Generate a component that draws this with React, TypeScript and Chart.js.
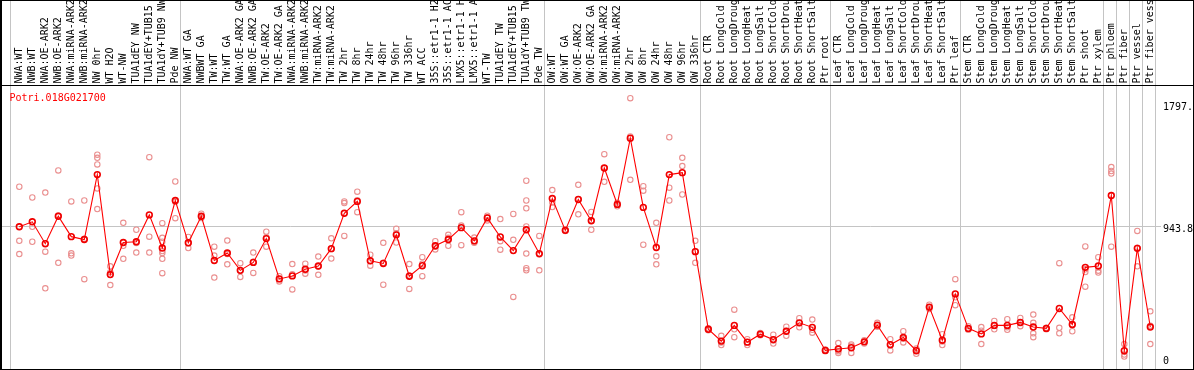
import React, { useEffect, useRef } from "react";
import { Chart, registerables } from "chart.js";

Chart.register(...registerables);

const geneId = "Potri.018G021700";

const categories = [
  "NWA:WT", "NWB:WT", "NWA:OE-ARK2", "NWB:OE-ARK2", "NWA:miRNA-ARK2", "NWB:miRNA-ARK2",
  "NW 0hr", "WT H2O", "WT-NW", "TUA1dEY NW", "TUA1dEY+TUB15 NW", "TUA1dY+TUB9 NW", "Pde NW",
  "NWA:WT GA", "NWBWT GA", "TW:WT", "TW:WT GA", "NWA:OE-ARK2 GA", "NWB:OE-ARK2 GA",
  "TW:OE-ARK2", "TW:OE-ARK2 GA", "NWA:miRNA-ARK2 GA", "NWB:miRNA-ARK2 GA", "TW:miRNA-ARK2",
  "TW:miRNA-ARK2 GA", "TW 2hr", "TW 8hr", "TW 24hr", "TW 48hr", "TW 96hr", "TW 336hr",
  "WT ACC", "35S::etr1-1 H2O", "35S::etr1-1 ACC", "LMX5::etr1-1 H2O", "LMX5::etr1-1 ACC",
  "WT-TW", "TUA1dEY TW", "TUA1dEY+TUB15 TW", "TUA1dY+TUB9 TW", "Pde TW",
  "OW:WT", "OW:WT GA", "OW:OE-ARK2", "OW:OE-ARK2 GA", "OW:miRNA-ARK2", "OW:miRNA-ARK2 GA",
  "OW 2hr", "OW 8hr", "OW 24hr", "OW 48hr", "OW 96hr", "OW 336hr",
  "Root CTR", "Root LongCold", "Root LongDrought", "Root LongHeat", "Root LongSalt",
  "Root ShortCold", "Root ShortDrought", "Root ShortHeat", "Root ShortSalt", "Ptr root",
  "Leaf CTR", "Leaf LongCold", "Leaf LongDrought", "Leaf LongHeat", "Leaf LongSalt",
  "Leaf ShortCold", "Leaf ShortDrought", "Leaf ShortHeat", "Leaf ShortSalt", "Ptr leaf",
  "Stem CTR", "Stem LongCold", "Stem LongDrought", "Stem LongHeat", "Stem LongSalt",
  "Stem ShortCold", "Stem ShortDrought", "Stem ShortHeat", "Stem ShortSalt", "Ptr shoot",
  "Ptr xylem", "Ptr phloem", "Ptr fiber", "Ptr vessel", "Ptr fiber vessel",
];

const means = [
  939, 972, 826, 1009, 873, 854, 1287, 620, 834, 839, 1018, 797, 1114,
  832, 1009, 714, 764, 648, 701, 860, 591, 611, 655, 677, 793, 1029, 1108, 712, 694, 885,
  609, 679, 812, 854, 933, 845, 998, 871, 780, 919, 760,
  1127, 915, 1121, 979, 1331, 1088, 1530, 1068, 801, 1287, 1300, 773,
  255, 176, 281, 169, 222, 186, 242, 298, 268, 114,
  123, 132, 171, 283, 152, 200, 112, 403, 182, 491,
  261, 224, 281, 281, 301, 270, 261, 394, 287, 668, 677,
  1147, 112, 795, 270,
];

const replicates: number[][] = [
  [1206, 845, 757], [1134, 939, 839], [1167, 773, 528], [1315, 1014, 698], [1108, 762, 747],
  [1114, 859, 589], [1420, 1399, 1355, 1195, 1057], [675, 635, 550], [965, 812, 725],
  [919, 831, 767], [1403, 873, 767], [963, 865, 839, 777, 764, 725, 629], [1241, 1105, 996],
  [871, 829, 797], [1026, 1005, 997], [806, 747, 600], [847, 757, 688], [696, 645, 604],
  [767, 705, 631], [906, 869, 806], [609, 590, 574], [690, 622, 521], [692, 647, 626],
  [740, 673, 618], [862, 790, 727], [1108, 1097, 878], [1173, 1115, 1036], [753, 710, 679],
  [832, 698, 552], [926, 895, 834], [690, 613, 524], [736, 692, 609], [843, 805, 788],
  [885, 865, 812], [1036, 947, 816], [867, 835, 833], [1013, 1000, 981], [990, 843, 786],
  [1024, 852, 471], [1246, 1114, 1062, 941, 760, 662, 648], [878, 754, 648],
  [1184, 1101, 1070], [920, 915, 910], [1219, 1122, 1022], [1038, 980, 919], [1423, 1331, 1239],
  [1099, 1090, 1075], [1797, 1541, 1252], [1210, 1180, 819], [965, 742, 688], [1536, 1200, 1114],
  [1399, 1344, 1154], [845, 776, 698],
  [262, 255, 248], [211, 167, 150], [386, 255, 202], [189, 169, 150], [230, 222, 215],
  [219, 180, 160], [272, 243, 211], [329, 297, 268], [320, 252, 232], [120, 114, 108],
  [163, 109, 97], [154, 145, 97], [181, 171, 160], [298, 283, 272], [189, 153, 114],
  [242, 191, 167], [127, 118, 91], [419, 400, 390], [222, 174, 150], [589, 468, 416],
  [276, 255, 252], [270, 246, 156], [311, 277, 255], [322, 269, 252], [331, 296, 276],
  [353, 298, 228, 202], [266, 262, 255], [696, 265, 228], [335, 284, 242], [808, 655, 637, 539],
  [736, 646, 633], [1337, 1311, 1294, 806], [156, 86, 73], [911, 799, 675], [375, 279, 156],
];

const yTickValues = [1797, 943.8, 0];
const yTickLabels = ["1797.", "943.8", "0"];
const referenceValue = 943.8;
const groupEnds = [12, 40, 52, 62, 72, 83, 84, 85, 86, 87];

const FONT = "10px 'DejaVu Sans Mono', 'Liberation Mono', monospace";

export default function App() {
  const ref = useRef<HTMLCanvasElement>(null);

  useEffect(() => {
    document.body.style.margin = "0";
    const canvas = ref.current;
    if (!canvas) return;

    const maxReps = Math.max(...replicates.map((r) => r.length));
    const repLayers = [];
    for (let k = 0; k < maxReps; k++) {
      repLayers.push({
        label: "rep" + k,
        data: replicates.map((r) => (r[k] === undefined ? null : r[k])),
        showLine: false,
        pointRadius: 2.7,
        pointBorderWidth: 1.1,
        pointBorderColor: "#ea9090",
        pointBackgroundColor: "rgba(255,255,255,0)",
        pointHoverRadius: 2.7,
        order: 2,
      });
    }

    const overlay = {
      id: "overlay",
      beforeDatasetsDraw(chart: any) {
        const ctx = chart.ctx;
        const xs = chart.scales.x;
        const ys = chart.scales.y;
        ctx.save();
        ctx.strokeStyle = "#c4c4c4";
        ctx.lineWidth = 1;
        const xsLines = [Math.round(xs.getPixelForValue(0) - 9)];
        groupEnds.forEach((i) => xsLines.push(Math.round(xs.getPixelForValue(i) + 5)));
        ctx.beginPath();
        xsLines.forEach((x) => {
          ctx.moveTo(x + 0.5, 0);
          ctx.lineTo(x + 0.5, 370);
        });
        const yr = Math.round(ys.getPixelForValue(referenceValue)) + 0.5;
        ctx.moveTo(0, yr);
        ctx.lineTo(1161, yr);
        ctx.stroke();
        ctx.restore();
      },
      afterDraw(chart: any) {
        const ctx = chart.ctx;
        const xs = chart.scales.x;
        const ys = chart.scales.y;
        ctx.save();
        ctx.fillStyle = "#000";
        ctx.fillRect(0, 0, 2, 370);
        ctx.fillRect(1193, 0, 1, 370);
        ctx.fillRect(0, 0, 1194, 1);
        ctx.fillRect(0, 85, 1194, 1);
        ctx.fillRect(0, 369, 1194, 1);
        ctx.font = FONT;
        ctx.textAlign = "left";
        ctx.textBaseline = "alphabetic";
        categories.forEach((label, i) => {
          const x = xs.getPixelForValue(i);
          ctx.save();
          ctx.translate(x, 83.5);
          ctx.rotate(-Math.PI / 2);
          ctx.fillText(label, 0, 2.5);
          ctx.restore();
        });
        ctx.fillStyle = "#ff0000";
        ctx.fillText(geneId, 9.5, 101);
        ctx.fillStyle = "#000";
        ctx.textBaseline = "middle";
        yTickValues.forEach((v, i) => {
          let y = ys.getPixelForValue(v) + 3.4;
          y = Math.min(Math.max(y, 107.5), 361.5);
          ctx.fillText(yTickLabels[i], 1163, y);
        });
        ctx.restore();
      },
    };

    const chart = new Chart(canvas, {
      type: "line",
      data: {
        labels: categories,
        datasets: [
          {
            label: geneId,
            data: means,
            borderColor: "#ff0000",
            borderWidth: 1.1,
            tension: 0,
            pointRadius: 2.9,
            pointBorderWidth: 1.6,
            pointBorderColor: "#f00000",
            pointBackgroundColor: "rgba(255,255,255,0)",
            pointHoverRadius: 2.9,
            order: 1,
          },
          ...repLayers,
        ],
      },
      options: {
        animation: false,
        responsive: false,
        devicePixelRatio: 1,
        events: [],
        layout: { padding: { left: 12.8, right: 37.2, top: 86, bottom: 0 } },
        plugins: { legend: { display: false }, tooltip: { enabled: false } },
        scales: {
          x: { type: "category", offset: true, display: false },
          y: { type: "linear", min: 0, max: 1878, display: false },
        },
      },
      plugins: [overlay],
    } as any);

    return () => chart.destroy();
  }, []);

  return (
    <div
      style={{
        position: "fixed",
        left: 0,
        top: 0,
        width: 1194,
        height: 370,
        overflow: "hidden",
        background: "#fff",
      }}
    >
      <canvas ref={ref} width={1194} height={372} style={{ display: "block", width: 1194, height: 372 }} />
    </div>
  );
}
